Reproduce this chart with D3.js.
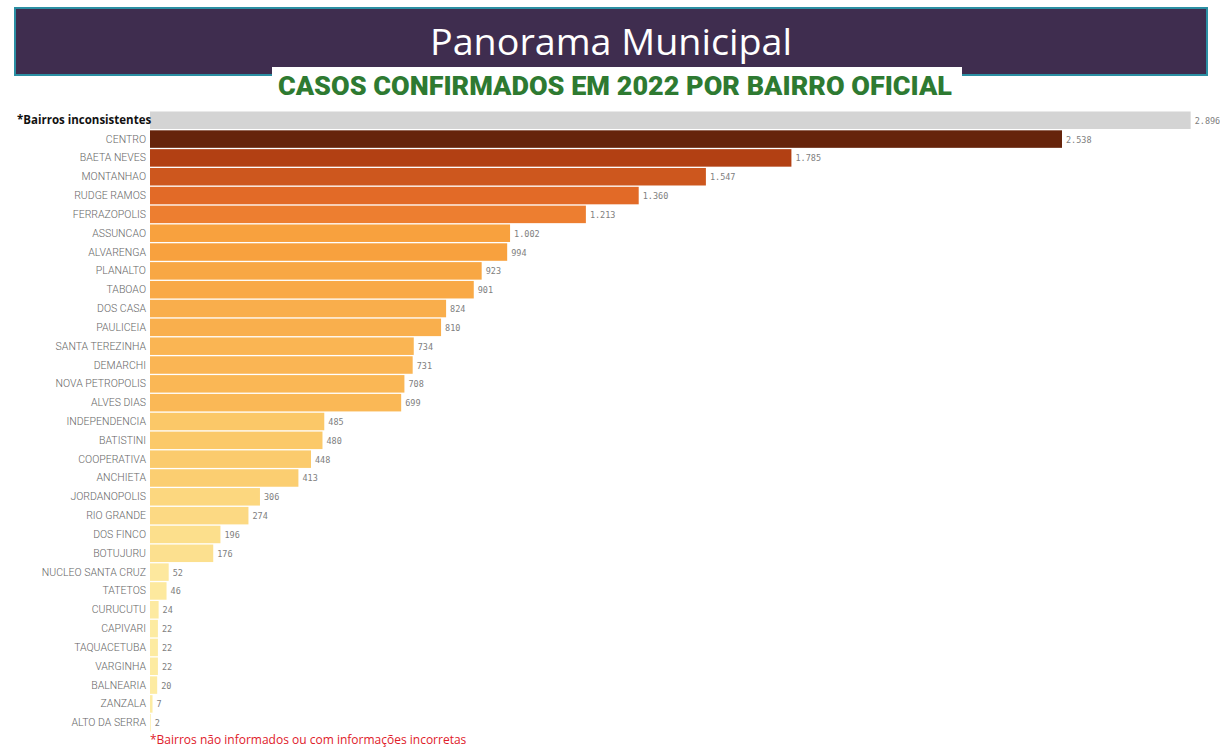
<!DOCTYPE html>
<html><head><meta charset="utf-8">
<script src="https://cdn.jsdelivr.net/npm/d3@7"></script>
<style>body{margin:0;background:#fff}svg{display:block}</style>
</head><body>
<svg id="c" width="1220" height="747"></svg>
<script>
const title = "Panorama Municipal";
const subtitle = "CASOS CONFIRMADOS EM 2022 POR BAIRRO OFICIAL";
const footnote = "*Bairros não informados ou com informações incorretas";
const inconsistentLabel = "*Bairros inconsistentes";
const inconsistentValue = 2896;
const categories = ["CENTRO","BAETA NEVES","MONTANHAO","RUDGE RAMOS","FERRAZOPOLIS","ASSUNCAO","ALVARENGA","PLANALTO","TABOAO","DOS CASA","PAULICEIA","SANTA TEREZINHA","DEMARCHI","NOVA PETROPOLIS","ALVES DIAS","INDEPENDENCIA","BATISTINI","COOPERATIVA","ANCHIETA","JORDANOPOLIS","RIO GRANDE","DOS FINCO","BOTUJURU","NUCLEO SANTA CRUZ","TATETOS","CURUCUTU","CAPIVARI","TAQUACETUBA","VARGINHA","BALNEARIA","ZANZALA","ALTO DA SERRA"];
const values = [2538,1785,1547,1360,1213,1002,994,923,901,824,810,734,731,708,699,485,480,448,413,306,274,196,176,52,46,24,22,22,22,20,7,2];

const svg = d3.select("#c");

// Banner
svg.append("rect").attr("x",15).attr("y",8).attr("width",1192).attr("height",67)
  .attr("fill","#3f2d4f").attr("stroke","#2b8fa3").attr("stroke-width",2);
svg.append("text").attr("x",611).attr("y",55).attr("text-anchor","middle")
  .attr("font-family","Open Sans").attr("font-size",36).attr("fill","#fff")
  .attr("textLength",362).attr("lengthAdjust","spacingAndGlyphs").text(title);
svg.append("rect").attr("x",272).attr("y",67).attr("width",690).attr("height",34).attr("fill","#fff");
svg.append("text").attr("x",278).attr("y",95)
  .attr("font-family","Roboto").attr("font-weight","900").attr("font-size",25)
  .attr("fill","#2e7a31").attr("textLength",674).attr("lengthAdjust","spacingAndGlyphs").text(subtitle);

const rows = [inconsistentLabel, ...categories];
const rowVals = [inconsistentValue, ...values];

const x = d3.scaleLinear().domain([0, 2538]).range([150, 1062]);
const y = d3.scaleBand().domain(rows).range([111.5, 731.5]).paddingInner(0.07);

const color = d3.scaleLinear()
  .domain([0, 250, 500, 1000, 1300, 1800, 2538])
  .range(["#fdeca4","#fcdb86","#fbc766","#f8a13e","#e9702a","#b03e12","#66240b"]);

const g = svg.append("g");
g.selectAll("rect.bar").data(rows).join("rect").attr("class","bar")
  .attr("x", x(0)).attr("y", d => y(d))
  .attr("width", (d,i) => Math.max(0, x(rowVals[i]) - x(0)))
  .attr("height", y.bandwidth())
  .attr("fill", (d,i) => i === 0 ? "#d4d4d4" : color(rowVals[i]));

const fmt = v => d3.format(",")(v).replace(/,/g, ".");
g.selectAll("text.val").data(rows).join("text").attr("class","val")
  .attr("x", (d,i) => x(rowVals[i]) + 4)
  .attr("y", d => y(d) + y.bandwidth()/2 + 3.5)
  .attr("font-family","DejaVu Sans Mono").attr("font-size",8.5).attr("fill","#808080")
  .text((d,i) => fmt(rowVals[i]));

g.selectAll("text.cat").data(rows).join("text").attr("class","cat")
  .attr("x", (d,i) => i === 0 ? 17 : 146)
  .attr("text-anchor", (d,i) => i === 0 ? "start" : "end")
  .attr("y", d => y(d) + y.bandwidth()/2 + 3.5)
  .attr("font-family", (d,i) => i === 0 ? "Open Sans" : "Roboto")
  .attr("font-weight", (d,i) => i === 0 ? "bold" : "300")
  .attr("font-size", (d,i) => i === 0 ? 11.5 : 10.5)
  .attr("fill", (d,i) => i === 0 ? "#111" : "#666")
  .text(d => d);

svg.append("text").attr("x",150).attr("y",744)
  .attr("font-family","Open Sans").attr("font-size",12).attr("fill","#e0202a").text(footnote);
</script>
</body></html>
